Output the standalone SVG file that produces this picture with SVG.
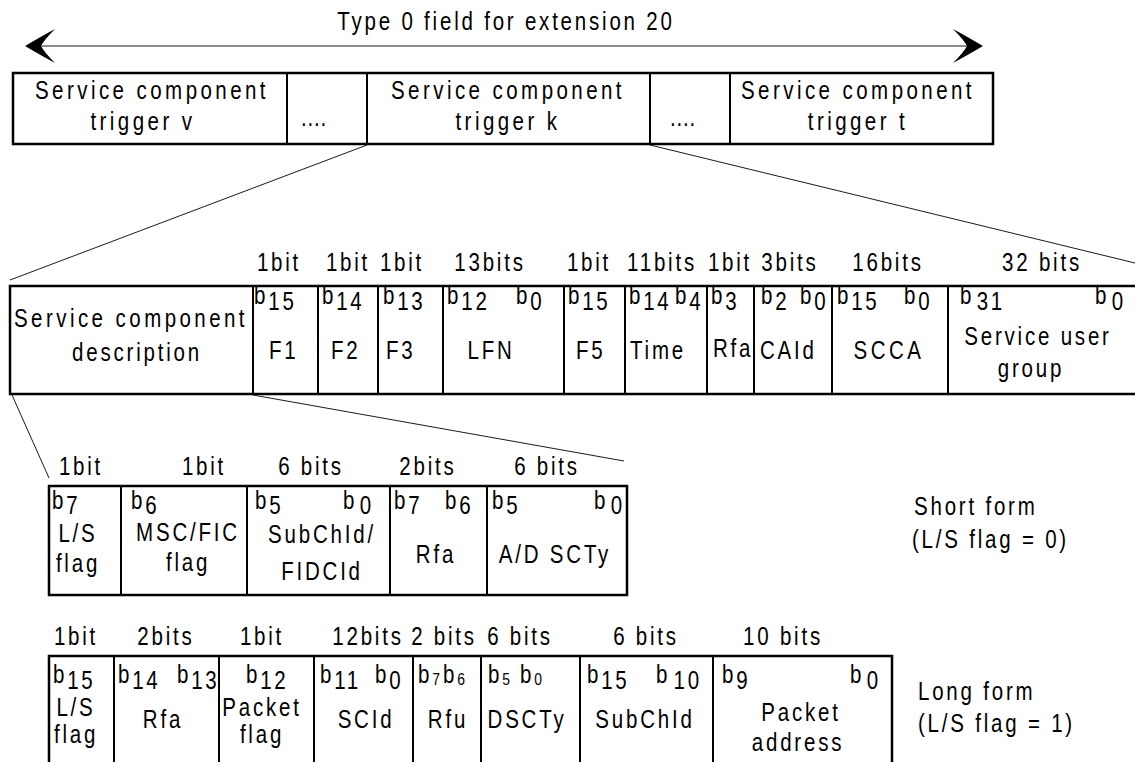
<svg xmlns="http://www.w3.org/2000/svg" width="1135" height="762" viewBox="0 0 1135 762">
<style>
text{font-family:"Liberation Sans",Arial,sans-serif;font-size:25px;letter-spacing:3.4px;fill:#000;transform-box:fill-box;transform:scaleX(.82);transform-origin:left center}
.c{text-anchor:middle;transform-origin:center}
.w{letter-spacing:4.2px}
.dt{letter-spacing:1px}
.sm{font-size:17px;letter-spacing:1px}
.box{fill:none;stroke:#000;stroke-width:2.5}
.dv{stroke:#000;stroke-width:2;fill:none}
.cn{stroke:#000;stroke-width:0.9;fill:none}
.ah{fill:#000}
</style>
<rect width="1135" height="762" fill="#fff"/>
<g id="title">
<text class="c" x="506" y="30">Type 0 field for extension 20</text>
<line class="cn" x1="40" y1="46" x2="968" y2="46" stroke-width="1.2"/>
<path class="ah" d="M25,46 Q42,36 55,29 Q44,40 41,46 Q44,52 55,63 Q42,56 25,46 Z"/>
<path class="ah" d="M983,46 Q966,36 953,29 Q964,40 967,46 Q964,52 953,63 Q966,56 983,46 Z"/>
</g>
<g id="connectors">
<line class="cn" x1="367" y1="145" x2="10" y2="280"/>
<line class="cn" x1="650" y1="145" x2="1135" y2="263"/>
<line class="cn" x1="12" y1="395" x2="49" y2="478"/>
<line class="cn" x1="253" y1="395" x2="624" y2="461"/>
</g>
<g id="triggers">
<rect class="box" x="13" y="73" width="980" height="71"/>
<line class="dv" x1="287" y1="73" x2="287" y2="144"/>
<line class="dv" x1="367" y1="73" x2="367" y2="144"/>
<line class="dv" x1="650" y1="73" x2="650" y2="144"/>
<line class="dv" x1="730" y1="73" x2="730" y2="144"/>
<text class="c w" x="152" y="99">Service component</text>
<text class="c w" x="143" y="130">trigger  v</text>
<text class="c dt" x="314" y="126">....</text>
<text class="c w" x="508" y="99">Service component</text>
<text class="c w" x="508" y="130">trigger  k</text>
<text class="c dt" x="683" y="126">....</text>
<text class="c w" x="858" y="99">Service component</text>
<text class="c w" x="858" y="130">trigger  t</text>
</g>
<g id="description">
<rect class="box" x="10" y="286" width="1135" height="108"/>
<g class="dv">
<line x1="253" y1="286" x2="253" y2="394"/>
<line x1="318" y1="286" x2="318" y2="394"/>
<line x1="378" y1="286" x2="378" y2="394"/>
<line x1="443" y1="286" x2="443" y2="394"/>
<line x1="564" y1="286" x2="564" y2="394"/>
<line x1="625" y1="286" x2="625" y2="394"/>
<line x1="707" y1="286" x2="707" y2="394"/>
<line x1="754" y1="286" x2="754" y2="394"/>
<line x1="832" y1="286" x2="832" y2="394"/>
<line x1="948" y1="286" x2="948" y2="394"/>
</g>
<text class="c" x="279" y="271">1bit</text>
<text class="c" x="348" y="271">1bit</text>
<text class="c" x="402" y="271">1bit</text>
<text class="c" x="490" y="271">13bits</text>
<text class="c" x="589" y="271">1bit</text>
<text class="c" x="662" y="271">11bits</text>
<text class="c" x="730" y="271">1bit</text>
<text class="c" x="790" y="271">3bits</text>
<text class="c" x="888" y="271">16bits</text>
<text class="c" x="1042" y="271">32 bits</text>
<text class="c w" x="131" y="327">Service component</text>
<text class="c" x="137" y="361">description</text>
<text x="254" y="304">b<tspan dy="6">15</tspan></text>
<text x="269" y="359">F1</text>
<text x="322" y="304">b<tspan dy="6">14</tspan></text>
<text x="331" y="359">F2</text>
<text x="383" y="304">b<tspan dy="6">13</tspan></text>
<text x="386" y="359">F3</text>
<text x="447" y="304">b<tspan dy="6">12</tspan></text>
<text x="516" y="304">b<tspan dy="6">0</tspan></text>
<text class="c" x="491" y="359">LFN</text>
<text x="568" y="304">b<tspan dy="6">15</tspan></text>
<text x="576" y="359">F5</text>
<text x="629" y="304">b<tspan dy="6">14</tspan></text>
<text x="675" y="304">b<tspan dy="6">4</tspan></text>
<text x="630" y="359">Time</text>
<text x="711" y="304">b<tspan dy="6">3</tspan></text>
<text x="713" y="357">Rfa</text>
<text x="761" y="304">b<tspan dy="6">2</tspan></text>
<text x="800" y="304">b<tspan dy="6">0</tspan></text>
<text x="760" y="359">CAId</text>
<text x="837" y="304">b<tspan dy="6">15</tspan></text>
<text x="904" y="304">b<tspan dy="6">0</tspan></text>
<text class="c w" x="889" y="359">SCCA</text>
<text x="960" y="304">b<tspan dx="3" dy="6">31</tspan></text>
<text x="1095" y="304">b<tspan dx="3" dy="6">0</tspan></text>
<text class="c" x="1038" y="345">Service user</text>
<text class="c" x="1031" y="377">group</text>
</g>
<g id="short-form">
<rect class="box" x="49" y="486" width="578" height="109"/>
<g class="dv">
<line x1="121" y1="486" x2="121" y2="595"/>
<line x1="247" y1="486" x2="247" y2="595"/>
<line x1="390" y1="486" x2="390" y2="595"/>
<line x1="487" y1="486" x2="487" y2="595"/>
</g>
<text class="c" x="81" y="475">1bit</text>
<text class="c" x="204" y="475">1bit</text>
<text class="c" x="311" y="475">6 bits</text>
<text class="c" x="428" y="475">2bits</text>
<text class="c" x="547" y="475">6 bits</text>
<text x="52" y="509">b<tspan dy="5">7</tspan></text>
<text class="c" x="78" y="542">L/S</text>
<text class="c" x="78" y="572">flag</text>
<text x="131" y="509">b<tspan dy="5">6</tspan></text>
<text class="c" x="188" y="541">MSC/FIC</text>
<text class="c" x="188" y="571">flag</text>
<text x="255" y="509">b<tspan dy="5">5</tspan></text>
<text x="343" y="509">b<tspan dx="3" dy="5">0</tspan></text>
<text class="c" x="322" y="543">SubChId/</text>
<text class="c" x="322" y="580">FIDCId</text>
<text x="394" y="509">b<tspan dy="5">7</tspan></text>
<text x="445" y="509">b<tspan dy="5">6</tspan></text>
<text class="c" x="436" y="563">Rfa</text>
<text x="492" y="509">b<tspan dy="5">5</tspan></text>
<text x="594" y="509">b<tspan dx="3" dy="5">0</tspan></text>
<text class="c" x="555" y="563">A/D SCTy</text>
</g>
<g id="short-label">
<text x="914" y="515">Short form</text>
<text x="912" y="548">(L/S flag = 0)</text>
</g>
<g id="long-form">
<path class="box" d="M49,770 L49,656 L892,656 L892,770"/>
<g class="dv">
<line x1="114" y1="656" x2="114" y2="770"/>
<line x1="219" y1="656" x2="219" y2="770"/>
<line x1="314" y1="656" x2="314" y2="770"/>
<line x1="413" y1="656" x2="413" y2="770"/>
<line x1="481" y1="656" x2="481" y2="770"/>
<line x1="580" y1="656" x2="580" y2="770"/>
<line x1="713" y1="656" x2="713" y2="770"/>
</g>
<text class="c" x="76" y="645">1bit</text>
<text class="c" x="166" y="645">2bits</text>
<text class="c" x="262" y="645">1bit</text>
<text class="c" x="368" y="645">12bits</text>
<text class="c" x="444" y="645">2 bits</text>
<text class="c" x="520" y="645">6 bits</text>
<text class="c" x="646" y="645">6 bits</text>
<text class="c" x="783" y="645">10 bits</text>
<text x="53" y="683">b<tspan dy="6">15</tspan></text>
<text class="c" x="76" y="716">L/S</text>
<text class="c" x="76" y="743">flag</text>
<text x="118" y="683">b<tspan dy="6">14</tspan></text>
<text x="177" y="683">b<tspan dy="6">13</tspan></text>
<text class="c" x="163" y="728">Rfa</text>
<text x="246" y="683">b<tspan dy="6">12</tspan></text>
<text class="c" x="262" y="716">Packet</text>
<text class="c" x="262" y="743">flag</text>
<text x="320" y="683">b<tspan dy="6">11</tspan></text>
<text x="375" y="683">b<tspan dy="6">0</tspan></text>
<text class="c" x="366" y="728">SCId</text>
<text x="418" y="683">b<tspan class="sm" dy="2">7</tspan></text>
<text x="443" y="683">b<tspan class="sm" dy="2">6</tspan></text>
<text class="c" x="448" y="728">Rfu</text>
<text x="488" y="683">b<tspan class="sm" dy="2">5</tspan></text>
<text x="520" y="683">b<tspan class="sm" dy="2">0</tspan></text>
<text class="c" x="527" y="728">DSCTy</text>
<text x="587" y="683">b<tspan dy="6">15</tspan></text>
<text x="656" y="683">b<tspan dx="4" dy="6">10</tspan></text>
<text class="c" x="645" y="728">SubChId</text>
<text x="722" y="683">b<tspan dy="6">9</tspan></text>
<text x="850" y="683">b<tspan dx="3" dy="6">0</tspan></text>
<text class="c" x="801" y="721">Packet</text>
<text class="c" x="798" y="751">address</text>
</g>
<g id="long-label">
<text x="918" y="700">Long form</text>
<text x="918" y="732">(L/S flag = 1)</text>
</g>
</svg>
